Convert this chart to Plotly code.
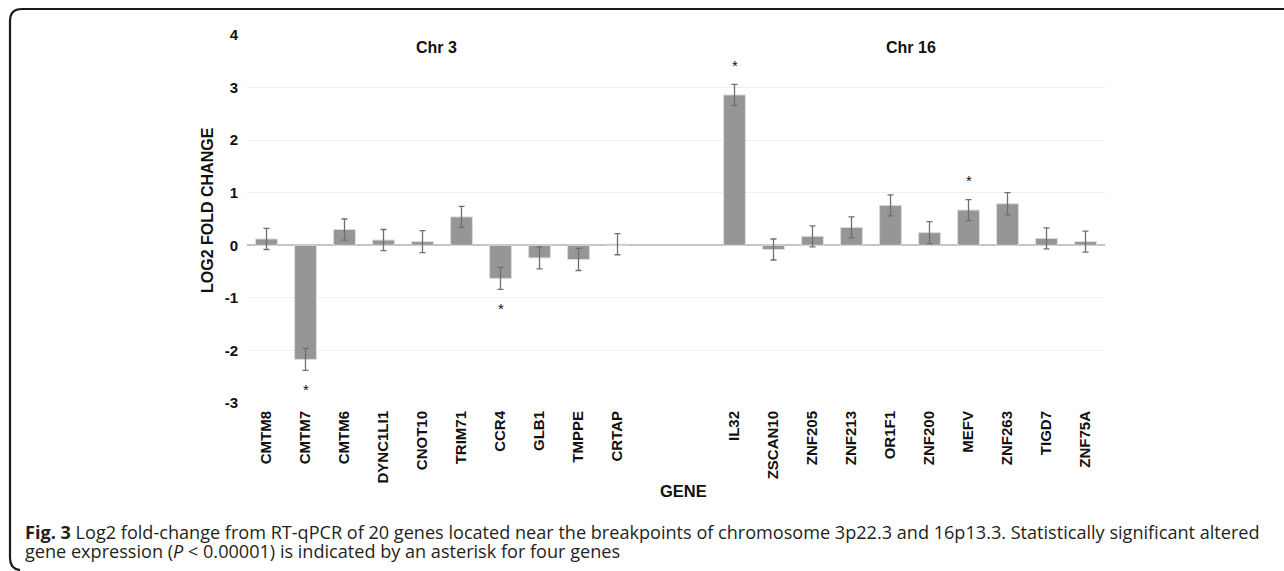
import plotly.graph_objects as go

# ---- data ----
genes_chr3 = ["CMTM8", "CMTM7", "CMTM6", "DYNC1LI1", "CNOT10", "TRIM71", "CCR4", "GLB1", "TMPPE", "CRTAP"]
values_chr3 = [0.12, -2.17, 0.30, 0.10, 0.07, 0.54, -0.63, -0.24, -0.27, 0.02]
errors_chr3 = [0.20, 0.21, 0.20, 0.20, 0.21, 0.20, 0.21, 0.21, 0.21, 0.20]

genes_chr16 = ["IL32", "ZSCAN10", "ZNF205", "ZNF213", "OR1F1", "ZNF200", "MEFV", "ZNF263", "TIGD7", "ZNF75A"]
values_chr16 = [2.86, -0.08, 0.17, 0.34, 0.76, 0.24, 0.67, 0.79, 0.13, 0.07]
errors_chr16 = [0.20, 0.20, 0.20, 0.20, 0.20, 0.21, 0.20, 0.21, 0.20, 0.20]

significant = ["CMTM7", "CCR4", "IL32", "MEFV"]
group_labels = ["Chr 3", "Chr 16"]
y_ticks = [-3, -2, -1, 0, 1, 2, 3, 4]

# ---- layout geometry (pixels) ----
W, H = 1284, 571
L, R, T, B = 247, 179, 35, 168
PW, PH = W - L - R, H - T - B

def px(x):
    return (x - L) / PW

def py(y):
    return (H - B - y) / PH

genes = genes_chr3 + genes_chr16
values = values_chr3 + values_chr16
errors = errors_chr3 + errors_chr16
gap = 2
xpos = list(range(len(genes_chr3))) + [len(genes_chr3) + gap + i for i in range(len(genes_chr16))]

fig = go.Figure()
fig.add_trace(go.Bar(
    x=xpos, y=values,
    width=0.56,
    marker=dict(color="#969696", line=dict(color="#dcdcdc", width=1)),
    error_y=dict(type="data", array=errors, visible=True, color="#6f6f6f", thickness=1.3, width=3),
    showlegend=False, hoverinfo="x+y",
))

annotations = []
for g, x, v, e in zip(genes, xpos, values, errors):
    if g in significant:
        s = 1 if v >= 0 else -1
        annotations.append(dict(
            x=x, y=v + s * e, xref="x", yref="y", text="*", showarrow=False,
            yshift=19 if s > 0 else -19,
            font=dict(family="Liberation Sans", size=15, color="#111"),
        ))

# group labels
for lab, xp in zip(group_labels, [436.7, 910.7]):
    annotations.append(dict(
        x=px(xp), y=py(47.5), xref="paper", yref="paper", text="<b>" + lab + "</b>",
        showarrow=False, xanchor="center", yanchor="middle",
        font=dict(family="Liberation Sans", size=16, color="#111"),
    ))

# axis titles
annotations.append(dict(
    x=px(683), y=py(491), xref="paper", yref="paper", text="<b>GENE</b>",
    showarrow=False, xanchor="center", yanchor="middle",
    font=dict(family="Liberation Sans", size=16.5, color="#111"),
))
annotations.append(dict(
    x=px(208), y=py(210), xref="paper", yref="paper", text="<b>LOG2 FOLD CHANGE</b>",
    showarrow=False, xanchor="center", yanchor="middle", textangle=-90,
    font=dict(family="Liberation Sans", size=16, color="#111"),
))

# caption
cap1 = ("<b>Fig. 3</b> Log2 fold-change from RT-qPCR of 20 genes located near the breakpoints of "
        "chromosome 3p22.3 and 16p13.3. Statistically significant altered")
cap2 = "gene expression (<i>P</i> &lt; 0.00001) is indicated by an asterisk for four genes"
for txt, yy in [(cap1, 532), (cap2, 551)]:
    annotations.append(dict(
        x=px(24), y=py(yy), xref="paper", yref="paper", text=txt,
        showarrow=False, xanchor="left", yanchor="middle", borderpad=0,
        font=dict(family="Open Sans", size=18.1, color="#231f20"),
    ))

# frame (top + left border with rounded corners)
path = (f"M {px(W+5)},{py(9)} L {px(22)},{py(9)} Q {px(10)},{py(9)} {px(10)},{py(21)} "
        f"L {px(10)},{py(558)} Q {px(10)},{py(569)} {px(20)},{py(570)}")
shapes = [dict(type="path", path=path, xref="paper", yref="paper",
               line=dict(color="#1a1a1a", width=2.2))]

fig.update_layout(
    width=W, height=H,
    margin=dict(l=L, r=R, t=T, b=B, pad=0),
    paper_bgcolor="white", plot_bgcolor="white",
    font=dict(family="Liberation Sans", color="#111"),
    bargap=0.44,
    annotations=annotations,
    shapes=shapes,
    xaxis=dict(
        range=[-0.5, len(genes_chr3) + gap + len(genes_chr16) - 0.5],
        tickvals=xpos, ticktext=genes, tickangle=-90,
        tickfont=dict(family="Liberation Sans", size=15, color="#111", weight="bold"),
        showgrid=False, zeroline=False, showline=False, ticks="", ticklabelstandoff=4,
    ),
    yaxis=dict(
        range=[-3, 4], tickvals=y_ticks, ticktext=[str(t) for t in y_ticks],
        tickfont=dict(family="Liberation Sans", size=15, color="#111", weight="bold"),
        showgrid=True, gridcolor="#efefef", gridwidth=1,
        zeroline=True, zerolinecolor="#c4c4c4", zerolinewidth=1.6,
        showline=False, ticks="", ticklabelstandoff=8,
    ),
)

fig.write_html(
    "out.html",
    config={"displayModeBar": False},
    post_script="document.body.style.margin='0px';document.body.style.overflow='hidden';",
)
